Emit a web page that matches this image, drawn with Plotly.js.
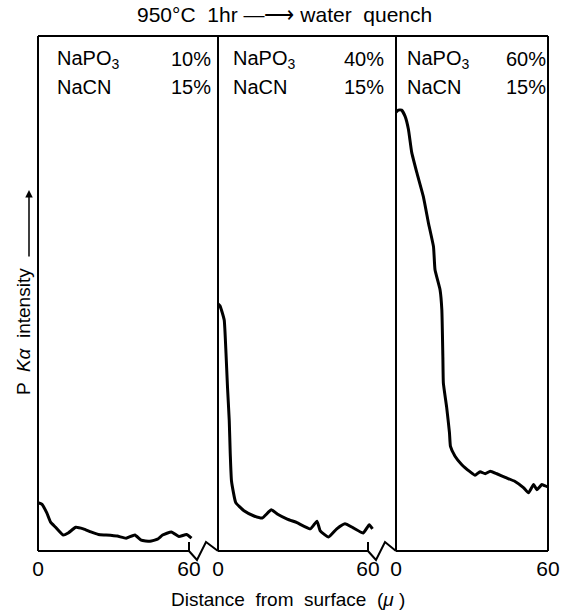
<!DOCTYPE html>
<html>
<head>
<meta charset="utf-8">
<script src="https://cdn.plot.ly/plotly-3.0.1.min.js"></script>
<style>html,body{margin:0;padding:0;background:#fff;}#chart{width:570px;height:612px;}</style>
</head>
<body>
<div id="chart"></div>
<script>
// ---- data (intensity in arbitrary units, 0-100 of the frame height) ----
const panelLabels = ["NaPO<sub>3</sub>", "NaPO<sub>3</sub>", "NaPO<sub>3</sub>"];
const panelNaPO3 = ["10%", "40%", "60%"];
const panelNaCN = ["15%", "15%", "15%"];
const tickVals = [0, 60];
const tickText = ["0", "60"];

const x1 = [0, 1.5, 3.5, 5, 7, 10, 12, 15, 18, 21, 24, 27, 31.5, 35, 38.5, 41, 44.5, 47.5, 49.5, 53, 56, 59, 61];
const y1 = [9.4, 9.1, 7.4, 5.6, 4.6, 3.1, 3.5, 4.6, 4.3, 3.7, 3.2, 3.1, 2.9, 2.5, 3.1, 2.1, 1.9, 2.3, 3.1, 3.7, 2.8, 3.2, 2.5];

const x2 = [0, 0.8, 1.5, 2.5, 3.2, 3.8, 4.5, 4.9, 5.4, 7.1, 10.4, 14.4, 17.7, 21.3, 23.7, 27.7, 31.6, 37, 39.6, 40.9, 44.2, 47.5, 50.8, 54.1, 58.1, 60.5, 61.8];
const y2 = [48.0, 47.6, 46.6, 44.8, 38.4, 31.8, 25.3, 18.9, 13.6, 9.4, 7.8, 6.8, 6.4, 8.0, 7.2, 6.2, 5.5, 4.3, 5.8, 3.9, 2.7, 4.3, 5.3, 4.5, 3.5, 5.1, 4.3];

const x3 = [0, 0.9, 2.2, 3.6, 4.9, 6.2, 8.2, 10.8, 12.8, 14.8, 15.4, 17.4, 18.1, 18.5, 18.7, 20, 21.1, 21.5, 23.3, 25.9, 29.2, 31.2, 33.2, 35.2, 37.2, 39.8, 43.1, 47, 50.3, 52.3, 54.3, 55.6, 57.6, 59.6, 60];
const y3 = [85.2, 85.6, 85.6, 84.4, 81.9, 77.4, 73.5, 68.8, 63.7, 59.1, 54.6, 50.7, 46.8, 37.6, 32.6, 27.9, 23.0, 20.3, 18.4, 16.8, 15.4, 14.7, 15.4, 15.0, 15.5, 15.0, 14.3, 13.5, 12.3, 11.3, 12.9, 11.9, 12.9, 12.5, 12.5];

// ---- geometry (pixels) ----
const W = 570, H = 612;
const L = 38, R = 548, T = 36, B = 551, D1 = 218, D2 = 396;
const X60a = 189, X60b = 368;
const px = v => v / W, py = v => 1 - v / H;
const FONT = "Liberation Sans, Arial, sans-serif";

const lineStyle = {color: "#000", width: 3, shape: "spline", smoothing: 0.4};
const traces = [
  {x: x1, y: y1, xaxis: "x", yaxis: "y", mode: "lines", line: lineStyle, hoverinfo: "skip"},
  {x: x2, y: y2, xaxis: "x2", yaxis: "y", mode: "lines", line: lineStyle, hoverinfo: "skip"},
  {x: x3, y: y3, xaxis: "x3", yaxis: "y", mode: "lines", line: lineStyle, hoverinfo: "skip"}
];

function xax(d0, d1, x60) {
  return {
    domain: [px(d0), px(d1)],
    range: [0, 60 * (d1 - d0) / (x60 - d0)],
    showgrid: false, zeroline: false, showline: false,
    tickvals: tickVals, ticktext: tickText, ticks: "",
    tickfont: {family: FONT, size: 21, color: "#000"},
    ticklabelstandoff: 3,
    anchor: "y", fixedrange: true
  };
}

const seg = (xa, ya, xb, yb, w) => ({type: "line", xref: "paper", yref: "paper",
  x0: px(xa), y0: py(ya), x1: px(xb), y1: py(yb), line: {color: "#000", width: w || 2}});
const brk = (x60, d) => ({type: "path", xref: "paper", yref: "paper",
  path: `M ${px(x60)} ${py(B - 9)} L ${px(x60)} ${py(B)} L ${px(x60 + 8)} ${py(B + 9)} L ${px(x60 + 17)} ${py(B - 9)} L ${px(d)} ${py(B)}`,
  line: {color: "#000", width: 2}});

const shapes = [
  seg(L, T, R, T), seg(L, T, L, B), seg(D1, T, D1, B), seg(D2, T, D2, B), seg(R, T, R, B),
  seg(L, B, X60a, B), seg(D1, B, X60b, B), seg(D2, B, R, B),
  brk(X60a, D1), brk(X60b, D2)
];

const tf = {family: FONT, size: 20, color: "#000"};
const ann = (text, x, y, extra) => Object.assign({text: text, x: px(x), y: py(y), xref: "paper", yref: "paper",
  xanchor: "center", yanchor: "middle", showarrow: false, font: tf}, extra || {});
const annotations = [
  ann("950°C  1hr —⟶ water  quench", 284, 14, {font: {family: FONT, size: 21, color: "#000"}}),
  ann("Distance  from  surface  (<i>μ</i> )", 288, 599, {font: {family: FONT, size: 19, color: "#000"}}),
  ann("P  <i>K</i><i>α</i>  intensity", 23, 332, {textangle: -90, font: {family: FONT, size: 19, color: "#000"}}),
  {text: "", x: px(29), y: py(190), ax: px(29), ay: py(258), xref: "paper", yref: "paper", axref: "paper", ayref: "paper",
   showarrow: true, arrowhead: 2, arrowsize: 1, arrowwidth: 1.5, arrowcolor: "#000"}
];
const labX = [55, 231, 405], pctX = [213, 386, 548];
for (let i = 0; i < 3; i++) {
  annotations.push(ann(panelLabels[i], labX[i], 60, {xanchor: "left"}));
  annotations.push(ann(panelNaPO3[i], pctX[i], 59, {xanchor: "right"}));
  annotations.push(ann("NaCN", labX[i], 87, {xanchor: "left"}));
  annotations.push(ann(panelNaCN[i], pctX[i], 87, {xanchor: "right"}));
}

const layout = {
  width: W, height: H,
  margin: {l: 0, r: 0, t: 0, b: 0},
  paper_bgcolor: "#fff", plot_bgcolor: "rgba(0,0,0,0)",
  showlegend: false,
  xaxis: xax(L, D1, X60a),
  xaxis2: xax(D1, D2, X60b),
  xaxis3: xax(D2, R, R),
  yaxis: {domain: [py(B), py(T)], range: [0, 100], showgrid: false, zeroline: false, showline: false,
          showticklabels: false, ticks: "", anchor: "x", fixedrange: true},
  shapes: shapes,
  annotations: annotations
};

Plotly.newPlot("chart", traces, layout, {staticPlot: true, displayModeBar: false});
</script>
</body>
</html>
